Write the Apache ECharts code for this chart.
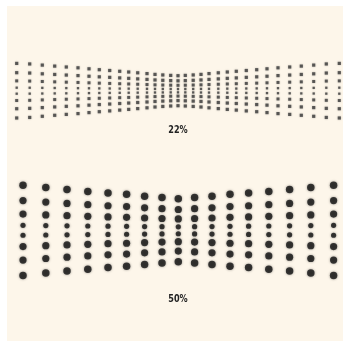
<!DOCTYPE html>
<html>
<head>
<meta charset="utf-8">
<script src="https://cdn.jsdelivr.net/npm/echarts@6/dist/echarts.min.js"></script>
<style>
html,body{margin:0;padding:0;background:#ffffff;}
#main{width:343px;height:342px;}
</style>
</head>
<body>
<div id="main"></div>
<script>
// Top panel (22%): column offsets from centre and half-heights (px units of the chart scale)
var topColOffsets = [0, 7.3, 15.2, 23, 31, 40.3, 49.3, 58.3, 68.3, 78.7, 89, 100, 111.7, 123.3, 135.7, 148.3, 161.3];
var topColHalf = [15, 15.3, 15.75, 16.3, 17.1, 17.9, 18.7, 19.4, 20.2, 21, 21.9, 22.9, 23.7, 24.6, 25.6, 26.75, 27.3];
var topCenter = [178, 90.7];
var topRowSizes = [3.2, 3.2, 3.0, 2.3, 2.3, 3.0, 3.2, 3.2];
var topLabel = '22%';

// Bottom panel (50%)
var botColOffsets = [0, 16.3, 33.7, 51.7, 70.3, 90.5, 111.3, 132.5, 155.3];
var botColHalf = [31.5, 32.75, 34.1, 36, 37.2, 38.9, 40.75, 42.75, 45.1];
var botCenter = [178.3, 230.3];
var botRowSizes = [7.5, 7.2, 7.2, 5.2, 5.2, 7.2, 7.2, 7.5];
var botLabel = '50%';

// Row positions as fraction of column half-height
var rowFractions = [-1, -0.66, -0.36, -0.11, 0.11, 0.36, 0.66, 1];

function buildPoints(offsets, halves, center) {
  var pts = [];
  for (var i = -(offsets.length - 1); i <= offsets.length - 1; i++) {
    var k = Math.abs(i);
    var x = center[0] + (i < 0 ? -offsets[k] : offsets[k]);
    for (var r = 0; r < rowFractions.length; r++) {
      pts.push([x, center[1] + rowFractions[r] * halves[k], r]);
    }
  }
  return pts;
}

var labelFont = 'bold 11px "Liberation Sans Narrow", "DejaVu Sans Condensed", "Liberation Sans", sans-serif';

var chart = echarts.init(document.getElementById('main'), null, {renderer: 'canvas'});
chart.setOption({
  animation: false,
  backgroundColor: '#ffffff',
  grid: {left: 0, right: 0, top: 0, bottom: 0},
  xAxis: {type: 'value', min: 0, max: 343, show: false},
  yAxis: {type: 'value', min: 0, max: 342, inverse: true, show: false},
  graphic: [
    {type: 'rect', z: -10, shape: {x: 7, y: 6, width: 336, height: 335}, style: {fill: '#fdf6ea'}},
    {type: 'text', x: 178, y: 130, scaleX: 0.82, style: {text: topLabel, fill: '#222', font: labelFont, textAlign: 'center', textVerticalAlign: 'middle'}},
    {type: 'text', x: 178, y: 299, scaleX: 0.82, style: {text: botLabel, fill: '#222', font: labelFont, textAlign: 'center', textVerticalAlign: 'middle'}}
  ],
  series: [
    {
      type: 'scatter',
      symbol: 'rect',
      data: buildPoints(topColOffsets, topColHalf, topCenter),
      symbolSize: function (v) { return topRowSizes[v[2]]; },
      itemStyle: {color: '#3a3a3a', shadowBlur: 2, shadowColor: 'rgba(0,0,0,0.35)'}
    },
    {
      type: 'scatter',
      symbol: 'circle',
      data: buildPoints(botColOffsets, botColHalf, botCenter),
      symbolSize: function (v) { return botRowSizes[v[2]]; },
      itemStyle: {color: '#111', shadowBlur: 2.5, shadowColor: 'rgba(0,0,0,0.5)'}
    }
  ]
});
</script>
</body>
</html>
